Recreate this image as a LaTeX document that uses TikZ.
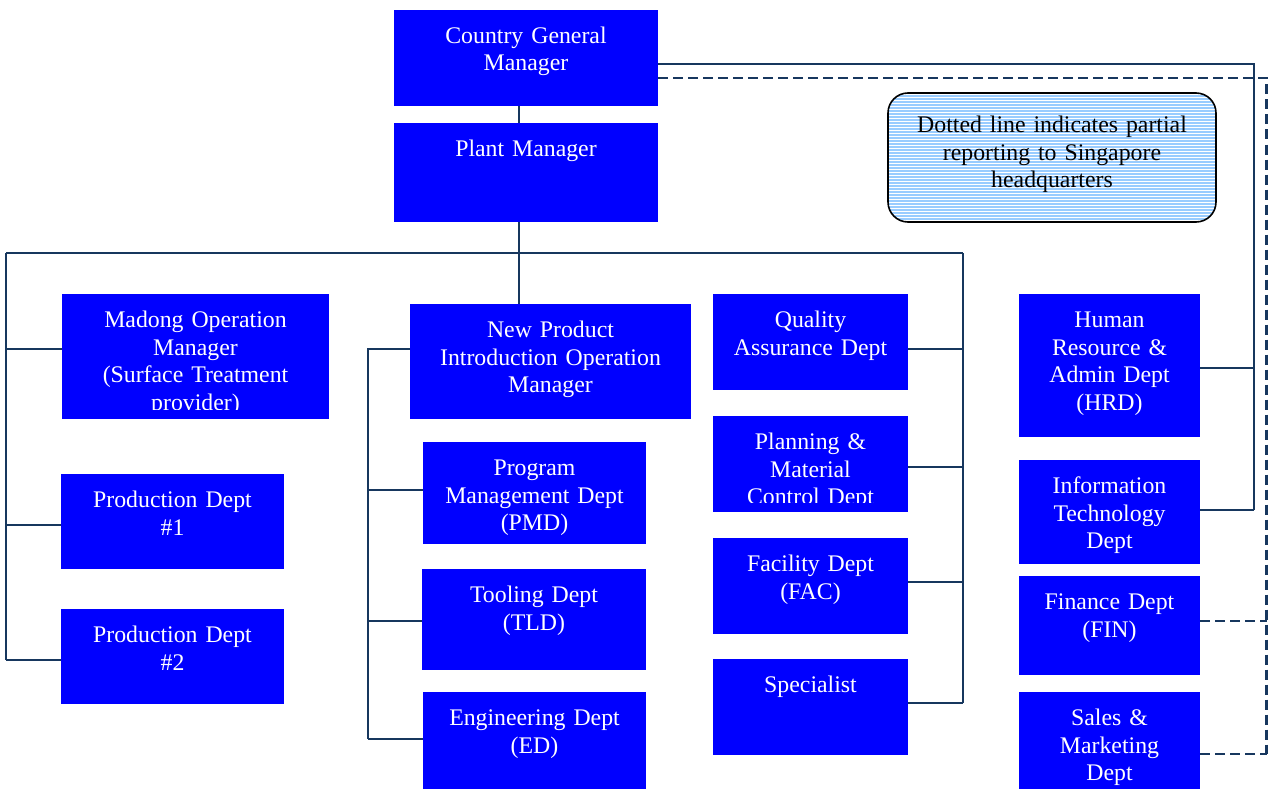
\documentclass[tikz,border=0pt]{standalone}
\usepackage{fontspec}
\setmainfont{Liberation Serif}
\usetikzlibrary{calc}

\definecolor{unitblue}{RGB}{0,0,255}
\definecolor{linknavy}{RGB}{23,55,94}
\definecolor{legendblue}{RGB}{153,204,255}

\tikzset{
  orgbox/.style={rectangle, fill=unitblue, draw=none, inner sep=0pt, outer sep=0pt, anchor=north west},
  unittext/.style={text=white, font=\fontsize{23.8}{27.5}\selectfont, align=center, inner sep=0pt, anchor=base},
  link/.style={draw=linknavy, line width=2.6pt},
  partial/.style={link, dash pattern=on 10pt off 5pt},
  legendbox/.style={rectangle, draw=black, line width=1.6pt, rounded corners=20pt, fill=legendblue,
    inner sep=0pt, outer sep=0pt,
    path picture={
      \foreach \k in {0,...,44}
        \draw[white, line width=0.9pt]
          ([yshift={-\k*3pt-1.5pt}]path picture bounding box.north west) --
          ([yshift={-\k*3pt-1.5pt}]path picture bounding box.north east);
    }},
  legendtext/.style={text=black, font=\fontsize{23.8}{27.5}\selectfont, align=center, inner sep=0pt, anchor=base}
}

% an organisational unit: name, left, top, right, bottom, text
\newcommand\orgunit[6]{%
  \pgfmathsetmacro\uw{#4-#2}\pgfmathsetmacro\uh{#5-#3}%
  \node[orgbox, minimum width=\uw pt, minimum height=\uh pt] (#1) at (#2,#3) {};
  \node[unittext, text width=\uw pt] (#1-text) at ($(#1.north)+(0,33.5)$) {#6};
}
% same, with the text cut off above the lower edge of the box
\newcommand\orgunitcut[6]{%
  \pgfmathsetmacro\uw{#4-#2}\pgfmathsetmacro\uh{#5-#3}%
  \node[orgbox, minimum width=\uw pt, minimum height=\uh pt] (#1) at (#2,#3) {};
  \begin{scope}
    \clip (#1.north west) rectangle ([yshift=10pt]#1.south east);
    \node[unittext, text width=\uw pt] (#1-text) at ($(#1.north)+(0,33.5)$) {#6};
  \end{scope}
}

\begin{document}
\begin{tikzpicture}[x=1pt, y=-1pt]
\useasboundingbox (0,0) rectangle (1268,789);

% management
\orgunit{cgm}{394}{10}{658}{106}{Country General\\Manager}
\orgunit{pm}{394}{123}{658}{222}{Plant Manager}

% left branch
\orgunitcut{madong}{62}{294}{329}{419}{Madong Operation\\Manager\\(Surface Treatment\\provider)}
\orgunit{pd1}{61}{474}{284}{569}{Production Dept\\\#1}
\orgunit{pd2}{61}{609}{284}{704}{Production Dept\\\#2}

% new product introduction branch
\orgunit{npi}{410}{304}{691}{419}{New Product\\Introduction Operation\\Manager}
\orgunit{pmd}{423}{442}{646}{544}{Program\\Management Dept\\(PMD)}
\orgunit{tld}{422}{569}{646}{670}{Tooling Dept\\(TLD)}
\orgunit{ed}{423}{692}{646}{795}{Engineering Dept\\(ED)}

% plant support departments
\orgunit{qa}{713}{294}{908}{390}{Quality\\Assurance Dept}
\orgunitcut{pmc}{713}{416}{908}{512}{Planning \&\\Material\\Control Dept}
\orgunit{fac}{713}{538}{908}{634}{Facility Dept\\(FAC)}
\orgunit{spec}{713}{659}{908}{755}{Specialist}

% departments reporting to the country general manager
\orgunit{hrd}{1019}{294}{1200}{437}{Human\\Resource \&\\Admin Dept\\(HRD)}
\orgunit{it}{1019}{460}{1200}{564}{Information\\Technology\\Dept}
\orgunit{fin}{1019}{576}{1200}{675}{Finance Dept\\(FIN)}
\orgunit{sales}{1019}{692}{1200}{795}{Sales \&\\Marketing\\Dept}

% legend
\node[legendbox, minimum width=328pt, minimum height=129pt, anchor=north west] (legend) at (888,93) {};
\node[legendtext, text width=320pt] (legend-text) at ($(legend.north)+(0,39.5)$)
  {Dotted line indicates partial\\reporting to Singapore\\headquarters};

% junction points of the connector lines
\coordinate (busL) at (6,253);
\coordinate (busR) at (963,253);
\coordinate (jMad) at (6,349);
\coordinate (jPd1) at (6,525);
\coordinate (jPd2) at (6,660);
\coordinate (jNpi) at (368,349);
\coordinate (jPmd) at (368,490);
\coordinate (jTld) at (368,621);
\coordinate (jEd)  at (368,739);
\coordinate (jQa)   at (963,349);
\coordinate (jPmc)  at (963,467);
\coordinate (jFac)  at (963,582);
\coordinate (jSpec) at (963,703);
\coordinate (sTop) at (1254,64);
\coordinate (jHrd) at (1254,368);
\coordinate (jIt)  at (1254,510);
\coordinate (dTop) at (1266.5,78);
\coordinate (jFin)   at (1266.5,621);
\coordinate (jSales) at (1266.5,754);

% main line of command
\draw[link] ([xshift=-7pt]cgm.south) -- ([xshift=-7pt]pm.north);
\draw[link] ([xshift=-7pt]pm.south) -- ([xshift=-7pt]pm.south |- npi.north);
\draw[link] (busL) -- (busR);

% left branch
\draw[link] (busL) -- (jPd2);
\draw[link] (jMad) -- (jMad -| madong.west);
\draw[link] (jPd1) -- (jPd1 -| pd1.west);
\draw[link] (jPd2) -- (jPd2 -| pd2.west);

% new product introduction branch
\draw[link] (jNpi -| npi.west) -- (jNpi) -- (jEd);
\draw[link] (jPmd) -- (jPmd -| pmd.west);
\draw[link] (jTld) -- (jTld -| tld.west);
\draw[link] (jEd) -- (jEd -| ed.west);

% plant support departments
\draw[link] (busR) -- (jSpec);
\draw[link] (jQa) -- (jQa -| qa.east);
\draw[link] (jPmc) -- (jPmc -| pmc.east);
\draw[link] (jFac) -- (jFac -| fac.east);
\draw[link] (jSpec) -- (jSpec -| spec.east);

% direct reports of the country general manager
\draw[link] (sTop -| cgm.east) -- (sTop) -- (jIt);
\draw[link] (jHrd) -- (jHrd -| hrd.east);
\draw[link] (jIt) -- (jIt -| it.east);

% partial reporting
\draw[partial] (dTop -| cgm.east) -- (dTop) -- (jSales);
\draw[partial] (jFin -| fin.east) -- (jFin);
\draw[partial] (jSales -| sales.east) -- (jSales);
\end{tikzpicture}
\end{document}
